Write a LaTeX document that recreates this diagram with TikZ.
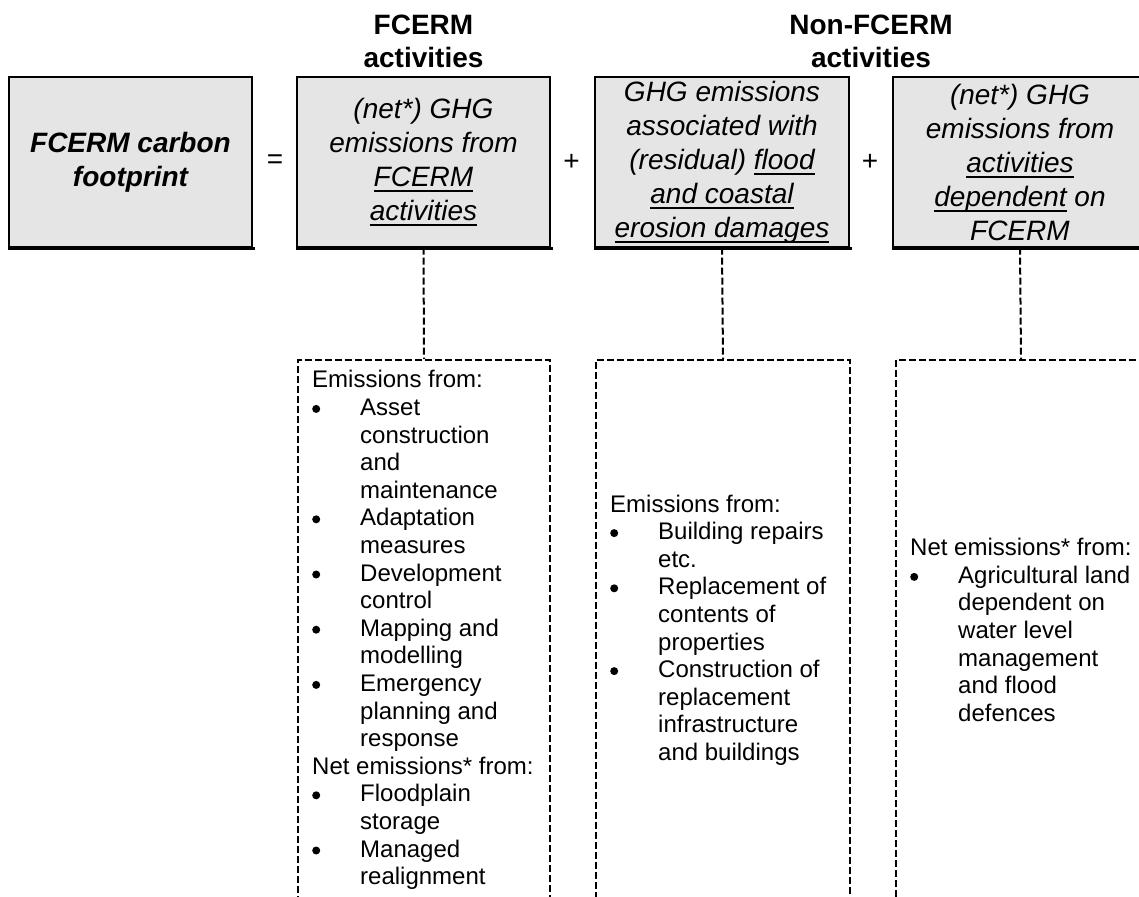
\documentclass[tikz,border=0pt]{standalone}
\usepackage{fontspec}
\setmainfont{Liberation Sans}
\definecolor{boxgray}{RGB}{229,229,229}
\newcommand\myul[1]{\setbox0=\hbox{#1}\rlap{\rule[-0.2em]{\wd0}{0.075em}}\box0\relax}
\newcommand\bl{\makebox[48pt][l]{\tikz[baseline=0pt]\fill (7pt,6.5pt) circle (4pt);}}
\newcommand\cl{\hspace*{48pt}}
\tikzset{
  sbox/.style={draw, line width=1.4pt, fill=boxgray, inner sep=0pt, align=center,
    font=\fontsize{28}{34}\selectfont\itshape},
  dbox/.style={draw, line width=2pt, dash pattern=on 7pt off 3pt, inner sep=0pt},
  dline/.style={line width=2pt, dash pattern=on 7pt off 3pt},
  shadowline/.style={line width=3pt},
  head/.style={font=\fontsize{28}{33}\selectfont\bfseries, align=center, inner sep=0pt},
  op/.style={font=\fontsize{28}{34}\selectfont, inner sep=0pt},
  body/.style={font=\fontsize{24}{27.6}\selectfont, align=left, inner sep=0pt}
}
\begin{document}
\begin{tikzpicture}[x=1pt,y=-1pt]
\useasboundingbox (0,0) rectangle (1139,896);
\clip (0,0) rectangle (1139,896);
% headers
\node[head, anchor=south] (h1) at (423.5,68) {FCERM\\activities};
\node[head, anchor=south] (h2) at (871,68) {Non-FCERM\\activities};
% solid boxes
\node[sbox, font=\fontsize{28}{34}\selectfont\bfseries\itshape,
  minimum width=243pt, minimum height=170pt] (b1) at (130.5,162)
  {FCERM carbon\\footprint};
\node[sbox, minimum width=253pt, minimum height=170pt] (b2) at (423.5,162)
  {(net*) GHG\\emissions from\\\myul{FCERM}\\\myul{activities}};
\node[sbox, minimum width=254pt, minimum height=170pt] (b3) at (722,162)
  {GHG emissions\\associated with\\(residual) \myul{flood}\\\myul{and coastal}\\\myul{erosion damages}};
\node[sbox, minimum width=254pt, minimum height=170pt] (b4) at (1020,162)
  {(net*) GHG\\emissions from\\\myul{activities}\\\myul{dependent} on\\FCERM};
\foreach \b in {b1,b2,b3,b4}
  \draw[shadowline] ([yshift=-0.8pt]\b.south west) -- ([xshift=2pt,yshift=-0.8pt]\b.south east);
% operators
\node[op] (eq) at (275,162) {=};
\node[op] (p1) at (571.5,162) {+};
\node[op] (p2) at (870,162) {+};
% dashed boxes
\node[dbox, anchor=north west, minimum width=252pt, minimum height=560pt] (dA) at (297,359) {};
\node[dbox, anchor=north west, minimum width=254pt, minimum height=560pt] (dB) at (595,359) {};
\node[dbox, anchor=north west, minimum width=250pt, minimum height=560pt] (dC) at (895,359) {};
% connectors
\draw[dline] (b2.south) -- (dA.north);
\draw[dline] (b3.south) -- (dB.north);
\draw[dline] (b4.south) -- (dC.north);
% body texts
\node[body, anchor=west] (tA) at (312,630) {Emissions from:\\
\bl Asset\\
\cl construction\\
\cl and\\
\cl maintenance\\
\bl Adaptation\\
\cl measures\\
\bl Development\\
\cl control\\
\bl Mapping and\\
\cl modelling\\
\bl Emergency\\
\cl planning and\\
\cl response\\
Net emissions* from:\\
\bl Floodplain\\
\cl storage\\
\bl Managed\\
\cl realignment};
\node[body, anchor=west] (tB) at (610,630) {Emissions from:\\
\bl Building repairs\\
\cl etc.\\
\bl Replacement of\\
\cl contents of\\
\cl properties\\
\bl Construction of\\
\cl replacement\\
\cl infrastructure\\
\cl and buildings};
\node[body, anchor=west] (tC) at (910,630) {Net emissions* from:\\
\bl Agricultural land\\
\cl dependent on\\
\cl water level\\
\cl management\\
\cl and flood\\
\cl defences};
\end{tikzpicture}
\end{document}
